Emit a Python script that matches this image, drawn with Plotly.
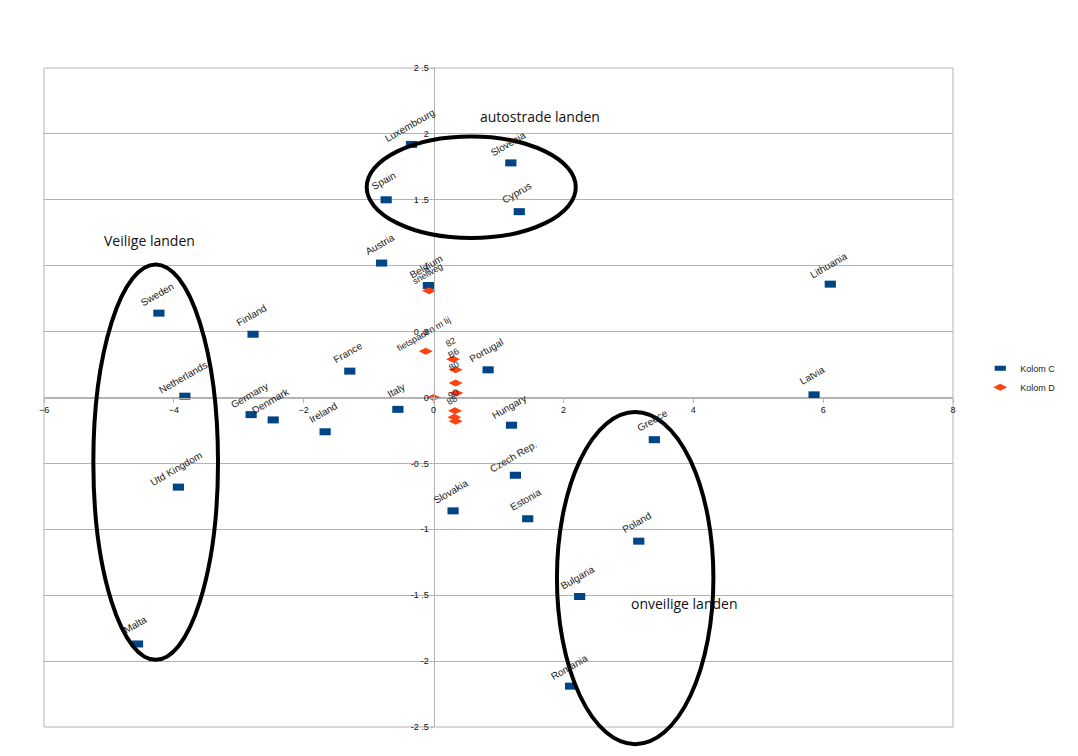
import plotly.graph_objects as go

# Kolom C (blue) points
c_names = ["Luxembourg", "Slovenia", "Spain", "Cyprus", "Austria", "Belgium", "Sweden",
           "Finland", "France", "Netherlands", "Germany", "Denmark", "Ireland", "Italy",
           "Portugal", "Hungary", "Czech Rep.", "Slovakia", "Estonia", "Greece", "Poland",
           "Bulgaria", "Romania", "Lithuania", "Latvia", "Utd Kingdom", "Malta"]
c_x = [-0.34, 1.19, -0.73, 1.32, -0.80, -0.08, -4.23,
       -2.78, -1.29, -3.83, -2.81, -2.47, -1.67, -0.55,
       0.84, 1.20, 1.26, 0.30, 1.45, 3.40, 3.16,
       2.25, 2.11, 6.11, 5.86, -3.93, -4.56]
c_y = [1.92, 1.78, 1.50, 1.41, 1.02, 0.85, 0.64,
       0.48, 0.20, 0.01, -0.13, -0.17, -0.26, -0.09,
       0.21, -0.21, -0.59, -0.86, -0.92, -0.32, -1.09,
       -1.51, -2.19, 0.86, 0.02, -0.68, -1.87]

# Kolom D (orange) points
d_names = ["snelweg", "fietspaden m lij", "", "82", "B6", "80", "", "90", "88", ""]
d_x = [-0.07, -0.12, 0.0, 0.30, 0.34, 0.34, 0.35, 0.33, 0.32, 0.34]
d_y = [0.81, 0.35, 0.0, 0.29, 0.21, 0.11, 0.035, -0.10, -0.15, -0.18]

# Axis settings
x_range = [-6, 8]
y_range = [-2.5, 2.5]
x_ticks = [-6, -4, -2, 0, 2, 4, 6, 8]
y_ticks = [-2.5, -2, -1.5, -1, -0.5, 0, 0.5, 1, 1.5, 2, 2.5]
y_ticktext = ["-2 .5", "-2", "-1 .5", "-1", "-0 .5", "0", "0 .5", "1", "1 .5", "2", "2 .5"]

# Group ellipses (data coords: x0, x1, y0, y1) and group titles
ellipses = [(-1.03, 2.19, 1.21, 1.98), (-5.24, -3.32, -1.99, 1.01), (1.90, 4.31, -2.63, -0.11)]
group_titles = ["autostrade landen", "Veilige landen", "onveilige landen"]
title_x = [1.64, -4.37, 3.86]
title_y = [2.13, 1.19, -1.56]


def px(x):
    return (x - x_range[0]) / (x_range[1] - x_range[0])


def py(y):
    return (y - y_range[0]) / (y_range[1] - y_range[0])


BLUE = "#004586"
ORANGE = "#ff420e"
GRID = "#b3b3b3"

fig = go.Figure()
fig.add_trace(go.Scatter(x=c_x, y=c_y, mode="markers", name="Kolom C",
                         marker=dict(symbol="line-ew", size=8, color=BLUE,
                                     line=dict(color=BLUE, width=7))))
fig.add_trace(go.Scatter(x=d_x, y=d_y, mode="markers", name="Kolom D", cliponaxis=False,
                         marker=dict(symbol="diamond-wide", size=10, color=ORANGE)))

annotations = []
for n, x, y in zip(c_names, c_x, c_y):
    annotations.append(dict(x=x, y=y, text=n, showarrow=False, textangle=-30,
                            yshift=19, xshift=-2,
                            font=dict(family="Liberation Sans", size=10, color="#222")))
for n, x, y in zip(d_names, d_x, d_y):
    if n:
        annotations.append(dict(x=x, y=y, text=n, showarrow=False, textangle=-30,
                                yshift=17, xshift=-2,
                                font=dict(family="Liberation Sans", size=9, color="#222")))
for t, x, y in zip(group_titles, title_x, title_y):
    annotations.append(dict(x=x, y=y, text=t, showarrow=False,
                            font=dict(family="Open Sans", size=14, color="#111")))

shapes = [dict(type="rect", xref="paper", yref="paper", x0=0, x1=1, y0=0, y1=1,
               line=dict(color=GRID, width=1), layer="below")]
for (x0, x1, y0, y1) in ellipses:
    shapes.append(dict(type="circle", xref="paper", yref="paper",
                       x0=px(x0), x1=px(x1), y0=py(y0), y1=py(y1),
                       line=dict(color="black", width=4)))

fig.update_layout(
    width=1078, height=756,
    margin=dict(l=36, r=133, t=60, b=37, pad=0, autoexpand=False),
    paper_bgcolor="white", plot_bgcolor="white",
    showlegend=True,
    legend=dict(x=1.03, y=0.53, xanchor="left", yanchor="middle",
                font=dict(family="Liberation Sans", size=9, color="#222"),
                tracegroupgap=0, bgcolor="rgba(0,0,0,0)", itemwidth=30),
    annotations=annotations,
    shapes=shapes,
    xaxis=dict(range=x_range, tickvals=x_ticks, showgrid=False, zeroline=False,
               showline=True, linecolor=GRID, linewidth=1, automargin=False,
               anchor="free", position=py(0),
               ticks="outside", ticklen=4, tickcolor=GRID,
               tickfont=dict(family="Liberation Sans", size=9, color="#111")),
    yaxis=dict(range=y_range, tickvals=y_ticks, ticktext=y_ticktext, showgrid=True,
               gridcolor=GRID, gridwidth=1, zeroline=False, automargin=False,
               showline=True, linecolor=GRID, linewidth=1,
               anchor="free", position=px(0),
               ticks="outside", ticklen=3, tickcolor=GRID,
               tickfont=dict(family="Liberation Sans", size=9, color="#111")),
)

fig.write_html("out.html")
